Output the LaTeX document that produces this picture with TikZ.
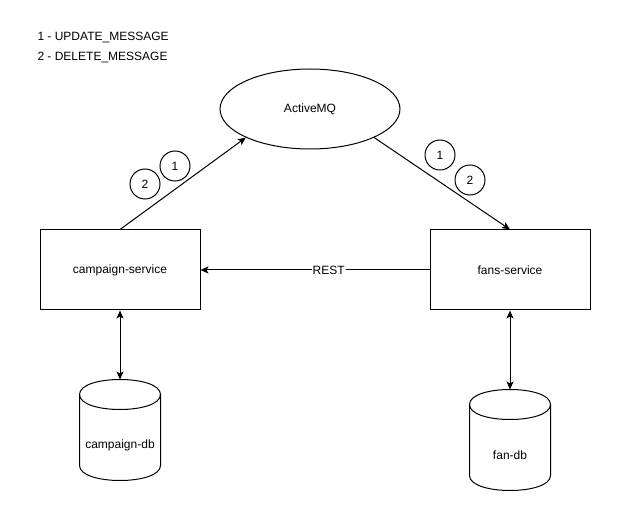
\documentclass[tikz,border=0pt]{standalone}
\usepackage{fontspec}
\setmainfont{Liberation Sans}
\usetikzlibrary{arrows.meta,shapes.geometric,calc}

\begin{document}
\begin{tikzpicture}[x=1pt, y=-1pt, line width=1pt,
    every node/.style={font=\fontsize{12}{14}\selectfont},
    service/.style={draw, minimum width=160pt, minimum height=80pt, inner sep=0pt},
    broker/.style={draw, ellipse, minimum width=180pt, minimum height=80pt, inner sep=0pt},
    msgnum/.style={draw, circle, minimum size=30pt, inner sep=0pt},
    dbbox/.style={minimum width=80pt, minimum height=100pt, inner sep=0pt},
    arr/.style={-{Stealth[length=8pt,width=7pt,inset=2pt]}},
    dblarr/.style={{Stealth[length=8pt,width=7pt,inset=2pt]}-{Stealth[length=8pt,width=7pt,inset=2pt]}}]

    \useasboundingbox (0,0) rectangle (621,521);

    % Legend
    \node[anchor=west, inner sep=0pt] (leg1) at (37,38) {1 - UPDATE\_MESSAGE};
    \node[anchor=west, inner sep=0pt] (leg2) at (37,58) {2 - DELETE\_MESSAGE};

    % Broker and services
    \node[broker] (amq) at (310,109) {ActiveMQ};
    \node[service] (camp) at (120,270) {campaign-service};
    \node[service] (fans) at (510,270) {fans-service};

    % Databases (cylinders)
    \node[dbbox] (cdb) at (120,430) {};
    \node[dbbox] (fdb) at (510,440) {};
    \foreach \db in {cdb,fdb} {
        \draw ($(\db.north west)+(0,15)$) .. controls ($(\db.north west)+(0,-5)$) and ($(\db.north east)+(0,-5)$) .. ($(\db.north east)+(0,15)$)
            -- ($(\db.south east)+(0,-15)$) .. controls ($(\db.south east)+(0,5)$) and ($(\db.south west)+(0,5)$) .. ($(\db.south west)+(0,-15)$) -- cycle;
        \draw ($(\db.north west)+(0,15)$) .. controls ($(\db.north west)+(0,35)$) and ($(\db.north east)+(0,35)$) .. ($(\db.north east)+(0,15)$);
    }
    \node (cdbtxt) at ($(cdb.center)+(0,15)$) {campaign-db};
    \node (fdbtxt) at ($(fdb.center)+(0,15)$) {fan-db};

    % Message numbers
    \node[msgnum] (ca1) at (175,166) {1};
    \node[msgnum] (ca2) at (145,184) {2};
    \node[msgnum] (fa1) at (440,155) {1};
    \node[msgnum] (fa2) at (470,180) {2};

    % Connections
    \draw[arr] (camp.north) -- (amq.204);
    \draw[arr] (amq.336) -- (fans.north);
    \draw[arr] (fans.west) -- node[pos=0.44, fill=white, inner sep=1pt] (rest) {REST} (camp.east);
    \draw[dblarr] (camp.south) -- (cdb.north);
    \draw[dblarr] (fans.south) -- (fdb.north);

\end{tikzpicture}
\end{document}
